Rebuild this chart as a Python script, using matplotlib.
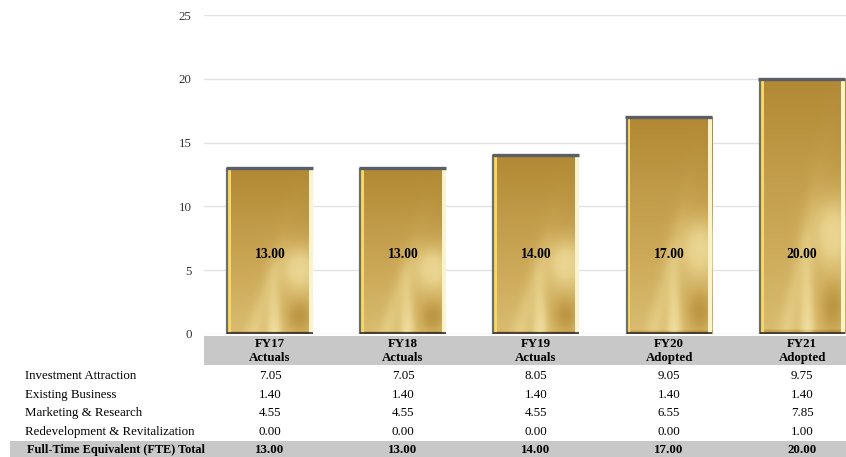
import numpy as np
import matplotlib
matplotlib.use("Agg")
import matplotlib.pyplot as plt
from matplotlib.patches import Rectangle
from matplotlib.colors import LinearSegmentedColormap
from matplotlib import transforms


years = ["FY17\nActuals", "FY18\nActuals", "FY19\nActuals", "FY20\nAdopted", "FY21\nAdopted"]
totals = [13.00, 13.00, 14.00, 17.00, 20.00]
row_names = ["Investment Attraction", "Existing Business", "Marketing & Research",
             "Redevelopment & Revitalization"]
investment = [7.05, 7.05, 8.05, 9.05, 9.75]
existing = [1.40, 1.40, 1.40, 1.40, 1.40]
marketing = [4.55, 4.55, 4.55, 6.55, 7.85]
redevelopment = [0.00, 0.00, 0.00, 0.00, 1.00]
total_label = "Full-Time Equivalent (FTE) Total"
yticks = [0, 5, 10, 15, 20, 25]

plt.rcParams["font.family"] = ["Liberation Serif", "DejaVu Serif"]

W, H = 846, 457
FS = 9.3
fig = plt.figure(figsize=(W / 100, H / 100), dpi=100)
ax = fig.add_axes([204 / W, 1 - 334 / H, 642 / W, 319 / H])

# gold gradient used inside each bar
gold = LinearSegmentedColormap.from_list(
    "gold", ["#9c7424", "#b48b36", "#cdab5a", "#e6cf88", "#f3e4a8"])
u = np.linspace(0, 1, 120)
v = np.linspace(0, 1, 300)
U, V = np.meshgrid(u, v)  # V=0 at bottom
shade = 0.22 + 0.4 * (1 - V) ** 0.9
shade += 0.35 * np.exp(-((U - 0.85) ** 2 / 0.06 + (V - 0.4) ** 2 / 0.02))
shade += 0.35 * np.exp(-((U - 0.55) ** 2) / 0.006) * np.clip(0.45 - V, 0, 1) * 2
shade += 0.12 * np.exp(-((U - 0.3 - 0.6 * V) ** 2) / 0.01) * np.exp(-V ** 2 / 0.3)
shade -= 0.25 * np.exp(-((U - 0.85) ** 2 / 0.02 + (V - 0.1) ** 2 / 0.01))
shade -= 0.2 * (V < 0.015)
shade = np.clip(shade, 0, 1)

bw = 0.64
x = np.arange(len(totals))
for i, h in enumerate(totals):
    x0, x1 = x[i] - bw / 2, x[i] + bw / 2
    bar = Rectangle((x0, 0), bw, h, facecolor="none", edgecolor="none")
    ax.add_patch(bar)
    im = ax.imshow(shade, cmap=gold, vmin=0, vmax=1, origin="lower",
                   extent=(x0, x1, 0, h), aspect="auto", zorder=2,
                   interpolation="bilinear")
    im.set_clip_path(bar)
    # bevel edges
    ax.add_patch(Rectangle((x0, 0), 0.03, h, facecolor="#f6d863",
                           edgecolor="none", zorder=3))
    ax.add_patch(Rectangle((x1 - 0.025, 0), 0.025, h, facecolor="#fcf3c8",
                           edgecolor="none", zorder=3))
    ax.plot([x0, x0], [0, h], color="#6a6e76", lw=1.6, zorder=4,
            solid_capstyle="butt")
    ax.plot([x0 - 0.008, x1], [h, h], color="#5a5e66", lw=2.4, zorder=4,
            solid_capstyle="butt")
    ax.plot([x0, x1], [0.06, 0.06], color="#2e2e2e", lw=1.2, zorder=4,
            solid_capstyle="butt")
    ax.text(x[i], 0.25, f"{h:.2f}", transform=transforms.blended_transform_factory(
        ax.transData, ax.transAxes), ha="center", va="center",
        fontsize=9.8, fontweight="bold", zorder=5)

ax.set_xlim(-0.496, 4.33)
ax.set_ylim(0, 25)
ax.set_yticks(yticks)
ax.set_yticklabels([str(t) for t in yticks], fontsize=FS, color="#333333")
ax.set_xticks([])
ax.tick_params(axis="y", length=0, pad=9)
ax.grid(axis="y", color="#e2e2e2", lw=1, zorder=0)
ax.set_axisbelow(True)
for s in ax.spines.values():
    s.set_visible(False)

# table below the chart
trans = transforms.blended_transform_factory(ax.transData, fig.transFigure)
fig.patches.append(Rectangle((204 / W, 1 - 365 / H), 642 / W, 29 / H,
                             transform=fig.transFigure, facecolor="#c8c8c8",
                             edgecolor="none", zorder=0))
fig.patches.append(Rectangle((10 / W, 0), 836 / W, 16 / H,
                             transform=fig.transFigure, facecolor="#c8c8c8",
                             edgecolor="none", zorder=0))

for i, yr in enumerate(years):
    fig.text(x[i], 1 - 351 / H, yr, transform=trans, ha="center", va="center",
             fontsize=FS, fontweight="bold", linespacing=1.3)

rows = [investment, existing, marketing, redevelopment]
row_y = [376, 395, 413, 432]
for name, vals, yp in zip(row_names, rows, row_y):
    fig.text(25 / W, 1 - yp / H, name, ha="left", va="center", fontsize=FS)
    for i, val in enumerate(vals):
        fig.text(x[i], 1 - yp / H, f"{val:.2f}", transform=trans,
                 ha="center", va="center", fontsize=FS)

fig.text(27 / W, 1 - 450 / H, total_label, ha="left", va="center",
         fontsize=8.8, fontweight="bold")
for i, val in enumerate(totals):
    fig.text(x[i], 1 - 450 / H, f"{val:.2f}", transform=trans,
             ha="center", va="center", fontsize=FS, fontweight="bold")

fig.savefig("out.png", dpi=100)
